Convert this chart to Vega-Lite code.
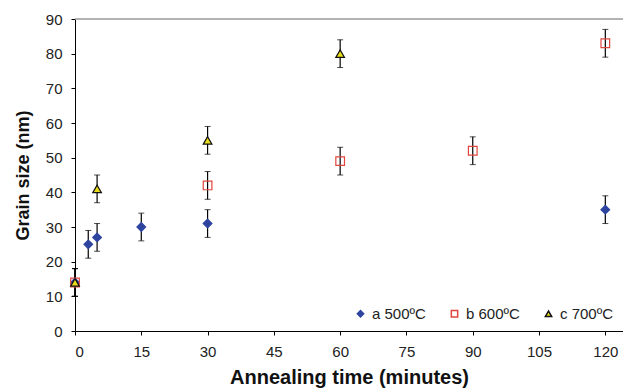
{
  "$schema": "https://vega.github.io/schema/vega-lite/v6.json",
  "autosize": "none",
  "width": 548,
  "height": 312,
  "padding": {"left": 75, "top": 19, "right": 0, "bottom": 59},
  "background": "white",
  "config": {
    "font": "Liberation Sans",
    "view": {"stroke": null},
    "axis": {"grid": false, "domainColor": "#000", "tickColor": "#000", "labelColor": "#222", "labelFontSize": 15, "titleFontWeight": "bold", "titleColor": "#111", "tickSize": 4}
  },
  "data": {"values": [
    {"series": "a 500ºC", "time": 0, "size": 14, "err": 4},
    {"series": "a 500ºC", "time": 3, "size": 25, "err": 4},
    {"series": "a 500ºC", "time": 5, "size": 27, "err": 4},
    {"series": "a 500ºC", "time": 15, "size": 30, "err": 4},
    {"series": "a 500ºC", "time": 30, "size": 31, "err": 4},
    {"series": "a 500ºC", "time": 120, "size": 35, "err": 4},
    {"series": "b 600ºC", "time": 0, "size": 14, "err": 4},
    {"series": "b 600ºC", "time": 30, "size": 42, "err": 4},
    {"series": "b 600ºC", "time": 60, "size": 49, "err": 4},
    {"series": "b 600ºC", "time": 90, "size": 52, "err": 4},
    {"series": "b 600ºC", "time": 120, "size": 83, "err": 4},
    {"series": "c 700ºC", "time": 0, "size": 14, "err": 4},
    {"series": "c 700ºC", "time": 5, "size": 41, "err": 4},
    {"series": "c 700ºC", "time": 30, "size": 55, "err": 4},
    {"series": "c 700ºC", "time": 60, "size": 80, "err": 4}
  ]},
  "layer": [
    {
      "mark": {"type": "rule", "color": "#999", "strokeWidth": 1.5},
      "data": {"values": [{"size": 90}]},
      "encoding": {"y": {"field": "size", "type": "quantitative", "scale": {"domain": [0, 90], "nice": false}, "axis": {"values": [0, 10, 20, 30, 40, 50, 60, 70, 80, 90], "title": "Grain size (nm)", "titleFontSize": 18, "titlePadding": 13, "labelPadding": 9}}}
    },
    {
      "mark": {"type": "errorbar", "ticks": {"color": "#000", "size": 6}, "rule": {"color": "#000", "strokeWidth": 1.2}},
      "encoding": {
        "x": {"field": "time", "type": "quantitative", "scale": {"domain": [0, 124], "nice": false}, "axis": {"values": [0, 15, 30, 45, 60, 75, 90, 105, 120], "title": "Annealing time (minutes)", "titleFontSize": 20, "titlePadding": 8, "labelPadding": 9}},
        "y": {"field": "size", "type": "quantitative", "scale": {"domain": [0, 90], "nice": false}, "axis": {"values": [0, 10, 20, 30, 40, 50, 60, 70, 80, 90], "title": "Grain size (nm)", "titleFontSize": 18, "titlePadding": 13, "labelPadding": 9}},
        "yError": {"field": "err"}
      }
    },
    {
      "mark": {"type": "point", "filled": false, "opacity": 1, "strokeWidth": 1.2, "size": 75},
      "encoding": {
        "x": {"field": "time", "type": "quantitative", "scale": {"domain": [0, 124], "nice": false}, "axis": {"values": [0, 15, 30, 45, 60, 75, 90, 105, 120], "title": "Annealing time (minutes)", "titleFontSize": 20, "titlePadding": 8, "labelPadding": 9}},
        "y": {"field": "size", "type": "quantitative", "scale": {"domain": [0, 90], "nice": false}, "axis": {"values": [0, 10, 20, 30, 40, 50, 60, 70, 80, 90], "title": "Grain size (nm)", "titleFontSize": 18, "titlePadding": 13, "labelPadding": 9}},
        "shape": {"field": "series", "type": "nominal", "scale": {"domain": ["a 500ºC", "b 600ºC", "c 700ºC"], "range": ["diamond", "square", "triangle-up"]}, "legend": {"orient": "bottom-right", "direction": "horizontal", "title": null, "labelFontSize": 15, "labelColor": "#222", "symbolSize": 40, "columnPadding": 21, "offset": 9, "padding": 0, "labelOffset": 4}},
        "fill": {"field": "series", "type": "nominal", "scale": {"domain": ["a 500ºC", "b 600ºC", "c 700ºC"], "range": ["#2E45A0", "transparent", "#E8DC1C"]}, "legend": null},
        "stroke": {"field": "series", "type": "nominal", "scale": {"domain": ["a 500ºC", "b 600ºC", "c 700ºC"], "range": ["#2E45A0", "#E0463E", "#111111"]}, "legend": null}
      }
    }
  ]
}
